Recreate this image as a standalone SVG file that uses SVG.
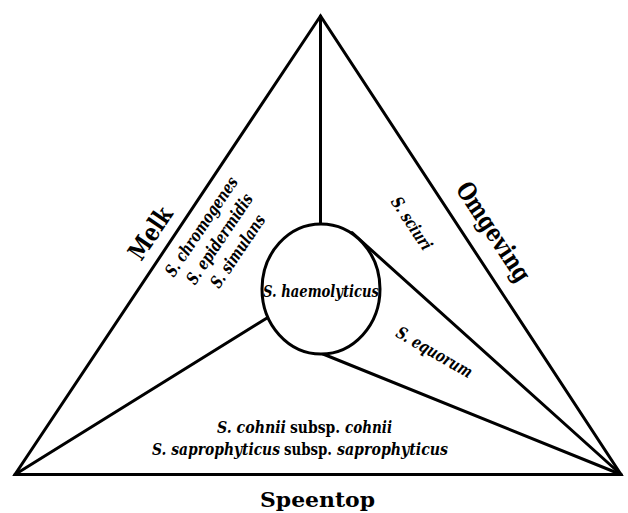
<svg xmlns="http://www.w3.org/2000/svg" width="628" height="513" viewBox="0 0 628 513">
<style>
.ln{fill:none;stroke:#000;stroke-width:3;stroke-linejoin:miter;stroke-linecap:round}
text{fill:#000;font-weight:bold;font-family:'DejaVu Serif',serif}
.big{font-size:25px}
.sp{font-size:17px;font-style:italic}
.up{font-size:16px;font-style:normal}
.bt{font-size:16px;font-style:italic}
</style>
<rect width="628" height="513" fill="#fff"/>
<g id="connectors">
<line class="ln" x1="320.5" y1="16" x2="320.5" y2="226"/>
<line class="ln" x1="267" y1="318" x2="15" y2="474.5"/>
<line class="ln" x1="352" y1="232.7" x2="621" y2="474.5"/>
<line class="ln" x1="323" y1="354" x2="621" y2="474.5"/>
</g>
<g id="triangle"><polygon class="ln" points="320.5,16 15,474.5 621,474.5"/></g>
<g id="haemolyticus">
<ellipse cx="321" cy="289" rx="59" ry="65" fill="#fff" stroke="#000" stroke-width="3"/>
<text class="sp" x="321" y="297" text-anchor="middle" textLength="116" lengthAdjust="spacingAndGlyphs">S. haemolyticus</text>
</g>
<g id="melk">
<text class="big" transform="translate(150,233) rotate(-56)" x="0" y="9" text-anchor="middle" textLength="58" lengthAdjust="spacingAndGlyphs">Melk</text>
<g transform="translate(221,240) rotate(-56)">
<text class="sp" x="0" y="-18" text-anchor="middle" textLength="116" lengthAdjust="spacingAndGlyphs">S. chromogenes</text>
<text class="sp" x="0" y="4" text-anchor="middle" textLength="105" lengthAdjust="spacingAndGlyphs">S. epidermidis</text>
<text class="sp" x="0" y="26" text-anchor="middle" textLength="84" lengthAdjust="spacingAndGlyphs">S. simulans</text>
</g>
</g>
<g id="omgeving">
<text class="big" transform="translate(493,232) rotate(56.5)" x="0" y="8" text-anchor="middle" textLength="114" lengthAdjust="spacingAndGlyphs">Omgeving</text>
<text class="sp" transform="translate(411,224) rotate(56.5)" x="0" y="5" text-anchor="middle" textLength="60" lengthAdjust="spacingAndGlyphs">S. sciuri</text>
<text class="sp" transform="translate(434,353) rotate(30)" x="0" y="5" text-anchor="middle" textLength="85" lengthAdjust="spacingAndGlyphs">S. equorum</text>
</g>
<g id="speentop">
<text class="bt" x="217" y="433" textLength="69" lengthAdjust="spacingAndGlyphs">S. cohnii</text>
<text class="up" x="290" y="433" textLength="50" lengthAdjust="spacingAndGlyphs">subsp.</text>
<text class="bt" x="345" y="433" textLength="47" lengthAdjust="spacingAndGlyphs">cohnii</text>
<text class="bt" x="152" y="455" textLength="128" lengthAdjust="spacingAndGlyphs">S. saprophyticus</text>
<text class="up" x="284" y="455" textLength="48" lengthAdjust="spacingAndGlyphs">subsp.</text>
<text class="bt" x="337" y="455" textLength="111" lengthAdjust="spacingAndGlyphs">saprophyticus</text>
<text x="317.5" y="507" font-size="21" text-anchor="middle" textLength="115" lengthAdjust="spacingAndGlyphs">Speentop</text>
</g>
</svg>
